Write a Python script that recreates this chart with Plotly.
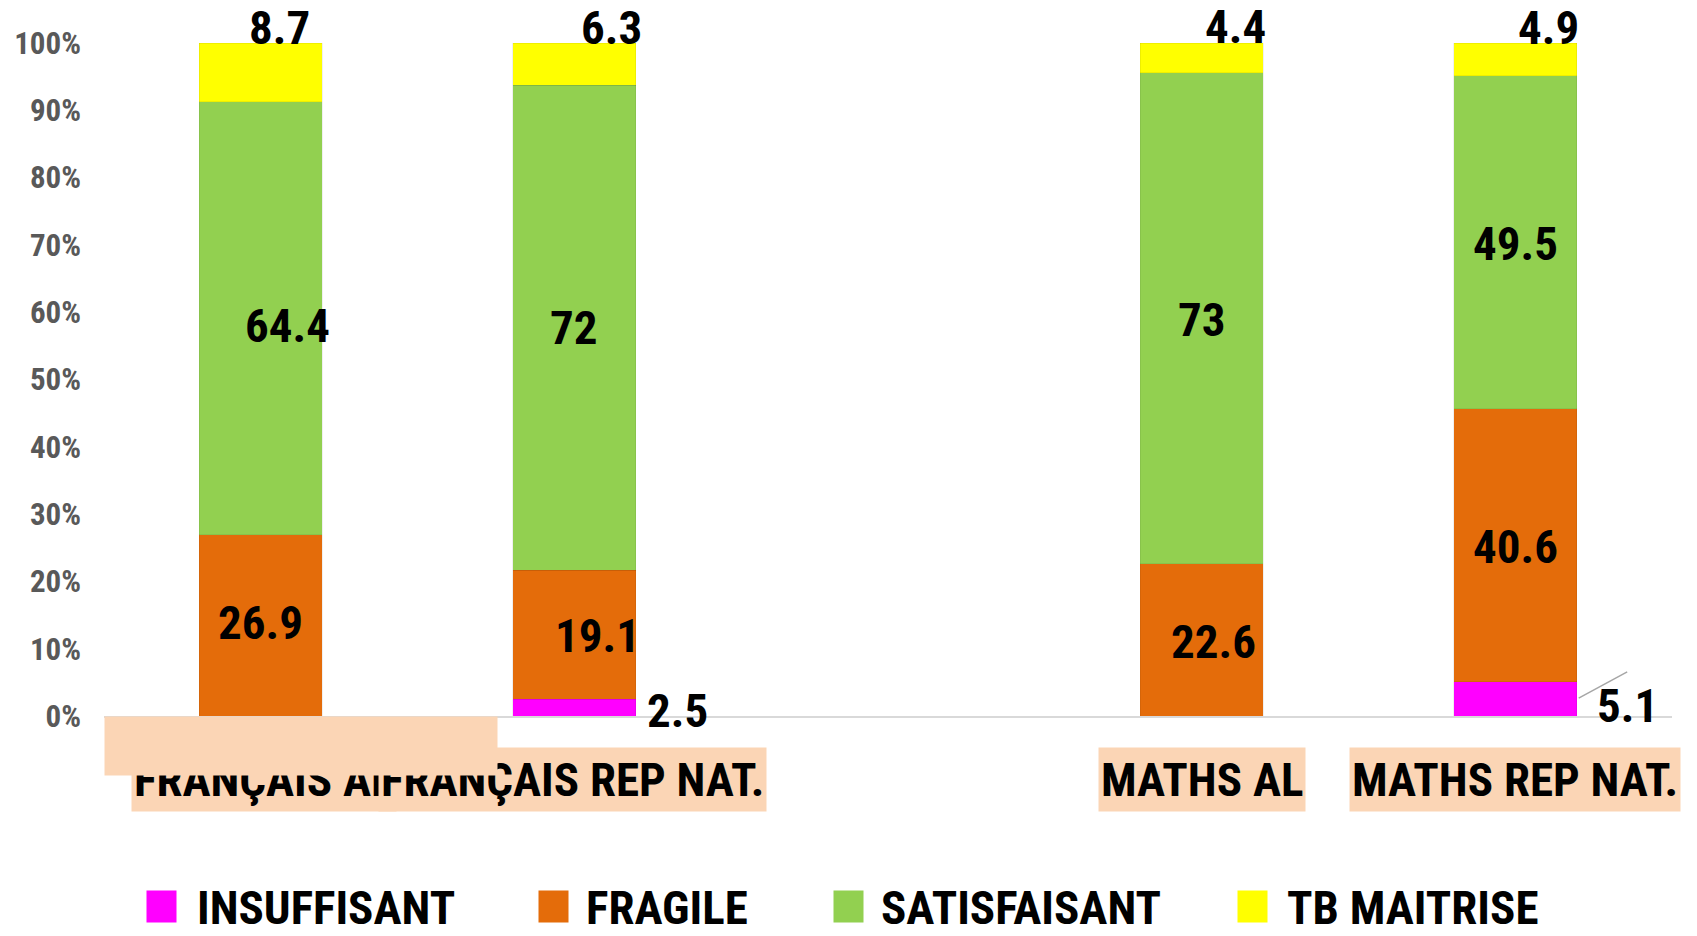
import plotly.graph_objects as go

# ---------------- data ----------------
categories = ["FRANÇAIS AL", "FRANÇAIS REP NAT.", " ", "MATHS AL", "MATHS REP NAT."]
bar_categories = ["FRANÇAIS AL", "FRANÇAIS REP NAT.", "MATHS AL", "MATHS REP NAT."]
series_names = ["INSUFFISANT", "FRAGILE", "SATISFAISANT", "TB MAITRISE"]
insuffisant = [0, 2.5, 0, 5.1]
fragile = [26.9, 19.1, 22.6, 40.6]
satisfaisant = [64.4, 72, 73, 49.5]
tb_maitrise = [8.7, 6.3, 4.4, 4.9]
y_tick_values = [0, 10, 20, 30, 40, 50, 60, 70, 80, 90, 100]
y_tick_labels = ["0%", "10%", "20%", "30%", "40%", "50%", "60%", "70%", "80%", "90%", "100%"]

# ---------------- style ----------------
colors = ["#FF00FF", "#E46C0A", "#92D050", "#FFFF00"]
PEACH = "#FBD5B5"
FONT = "Roboto Condensed, DejaVu Sans Condensed, sans-serif"
BIG = 47

# label offsets (px) relative to segment centre: (series index, category index) -> (dx, dy)
label_offsets = {
    (3, 0): (19, 45), (3, 1): (37, 37), (3, 2): (34, 31), (3, 3): (33, 32),
    (2, 0): (27, -7), (2, 1): (0, 0), (2, 2): (0, -1), (2, 3): (0, -1),
    (1, 0): (0, 3), (1, 1): (23, -1), (1, 2): (12, -2), (1, 3): (0, -1),
    (0, 1): (103, -3), (0, 3): (112, -7),
}
# category label placement: (anchor, xshift)
cat_label_place = {0: ("left", -130), 1: ("right", 193), 2: ("center", 0), 3: ("center", 0)}

series = [insuffisant, fragile, satisfaisant, tb_maitrise]

fig = go.Figure()
for name, vals, col in zip(series_names, series, colors):
    fig.add_trace(go.Bar(
        x=bar_categories, y=vals, name=name,
        marker=dict(color=col, line=dict(width=0.8, color="rgba(0,0,0,0.08)")),
        showlegend=False, hoverinfo="x+y+name",
    ))

annotations = []
# data labels, positioned on normalised (percent) stack
for j, cat in enumerate(bar_categories):
    total = sum(s[j] for s in series)
    cum = 0.0
    for i, s in enumerate(series):
        v = s[j]
        pct = v / total * 100
        centre = cum + pct / 2
        cum += pct
        if v <= 0:
            continue
        dx, dy = label_offsets.get((i, j), (0, 0))
        annotations.append(dict(
            x=cat, y=centre, xref="x", yref="y", text=f"<b>{v:g}</b>",
            showarrow=False, xshift=dx, yshift=dy,
            font=dict(family=FONT, size=BIG, color="black"),
            xanchor="center", yanchor="middle",
        ))

# leader line for last insuffisant label
j = 3
total = sum(s[j] for s in series)
annotations.append(dict(
    x=bar_categories[j], y=insuffisant[j] / total * 100 / 2, xref="x", yref="y",
    text="", showarrow=True, arrowhead=0, arrowwidth=1.5, arrowcolor="#A6A6A6",
    ax=-50, ay=27, xshift=112, yshift=27, standoff=0, startstandoff=0,
    font=dict(size=1),
))

# category labels with peach background
for j, cat in enumerate(bar_categories):
    anchor, shift = cat_label_place[j]
    annotations.append(dict(
        x=cat, xref="x", xanchor=anchor, y=0, yref="paper", yanchor="top", yshift=-31,
        xshift=shift,
        text=f"<b>{cat}</b>", showarrow=False, bgcolor=PEACH, borderpad=2,
        height=59, valign="middle",
        font=dict(family=FONT, size=BIG, color="black"),
    ))

# stray peach block (as in source)
annotations.append(dict(
    x=0, xref="paper", xanchor="left", y=0, yref="paper", yanchor="top",
    text=" ", showarrow=False, bgcolor=PEACH, width=392, height=58, borderpad=0,
    font=dict(size=10),
))

# manual legend
legend_sq_px = [146, 538, 833, 1237]
legend_tx_px = [195, 584, 879, 1285]
PL, PW = 104, 1568
LEG_Y = -191
for name, col, sx, tx in zip(series_names, colors, legend_sq_px, legend_tx_px):
    annotations.append(dict(
        x=(sx - PL) / PW, xref="paper", xanchor="left", y=0, yref="paper", yanchor="middle",
        yshift=LEG_Y + 1, text=" ", showarrow=False, bgcolor=col, width=29, height=31, borderpad=0,
        font=dict(size=10),
    ))
    annotations.append(dict(
        x=(tx - PL) / PW, xref="paper", xanchor="left", y=0, yref="paper", yanchor="middle",
        yshift=LEG_Y, text=f"<b>{name}</b>", showarrow=False,
        font=dict(family=FONT, size=BIG, color="black"),
    ))

fig.update_layout(
    barmode="stack", barnorm="percent", bargap=0.608,
    width=1697, height=936,
    margin=dict(l=104, r=25, t=43, b=220, autoexpand=False),
    paper_bgcolor="white", plot_bgcolor="white",
    annotations=annotations,
    showlegend=False,
    xaxis=dict(type="category", categoryorder="array", categoryarray=categories,
               range=[-0.5, 4.5], showticklabels=False, showgrid=False, zeroline=False,
               showline=True, linecolor="#D9D9D9", linewidth=2, ticks="", automargin=False),
    yaxis=dict(range=[0, 100], tickvals=y_tick_values, ticktext=[f"<b>{t}</b>" for t in y_tick_labels],
               showgrid=False, zeroline=False, showline=False, ticks="", automargin=False,
               ticklabelstandoff=22,
               tickfont=dict(family=FONT, size=31, color="#595959")),
)

fig.write_html("out.html", config={"displayModeBar": False},
               post_script="document.body.style.margin='0px';")
